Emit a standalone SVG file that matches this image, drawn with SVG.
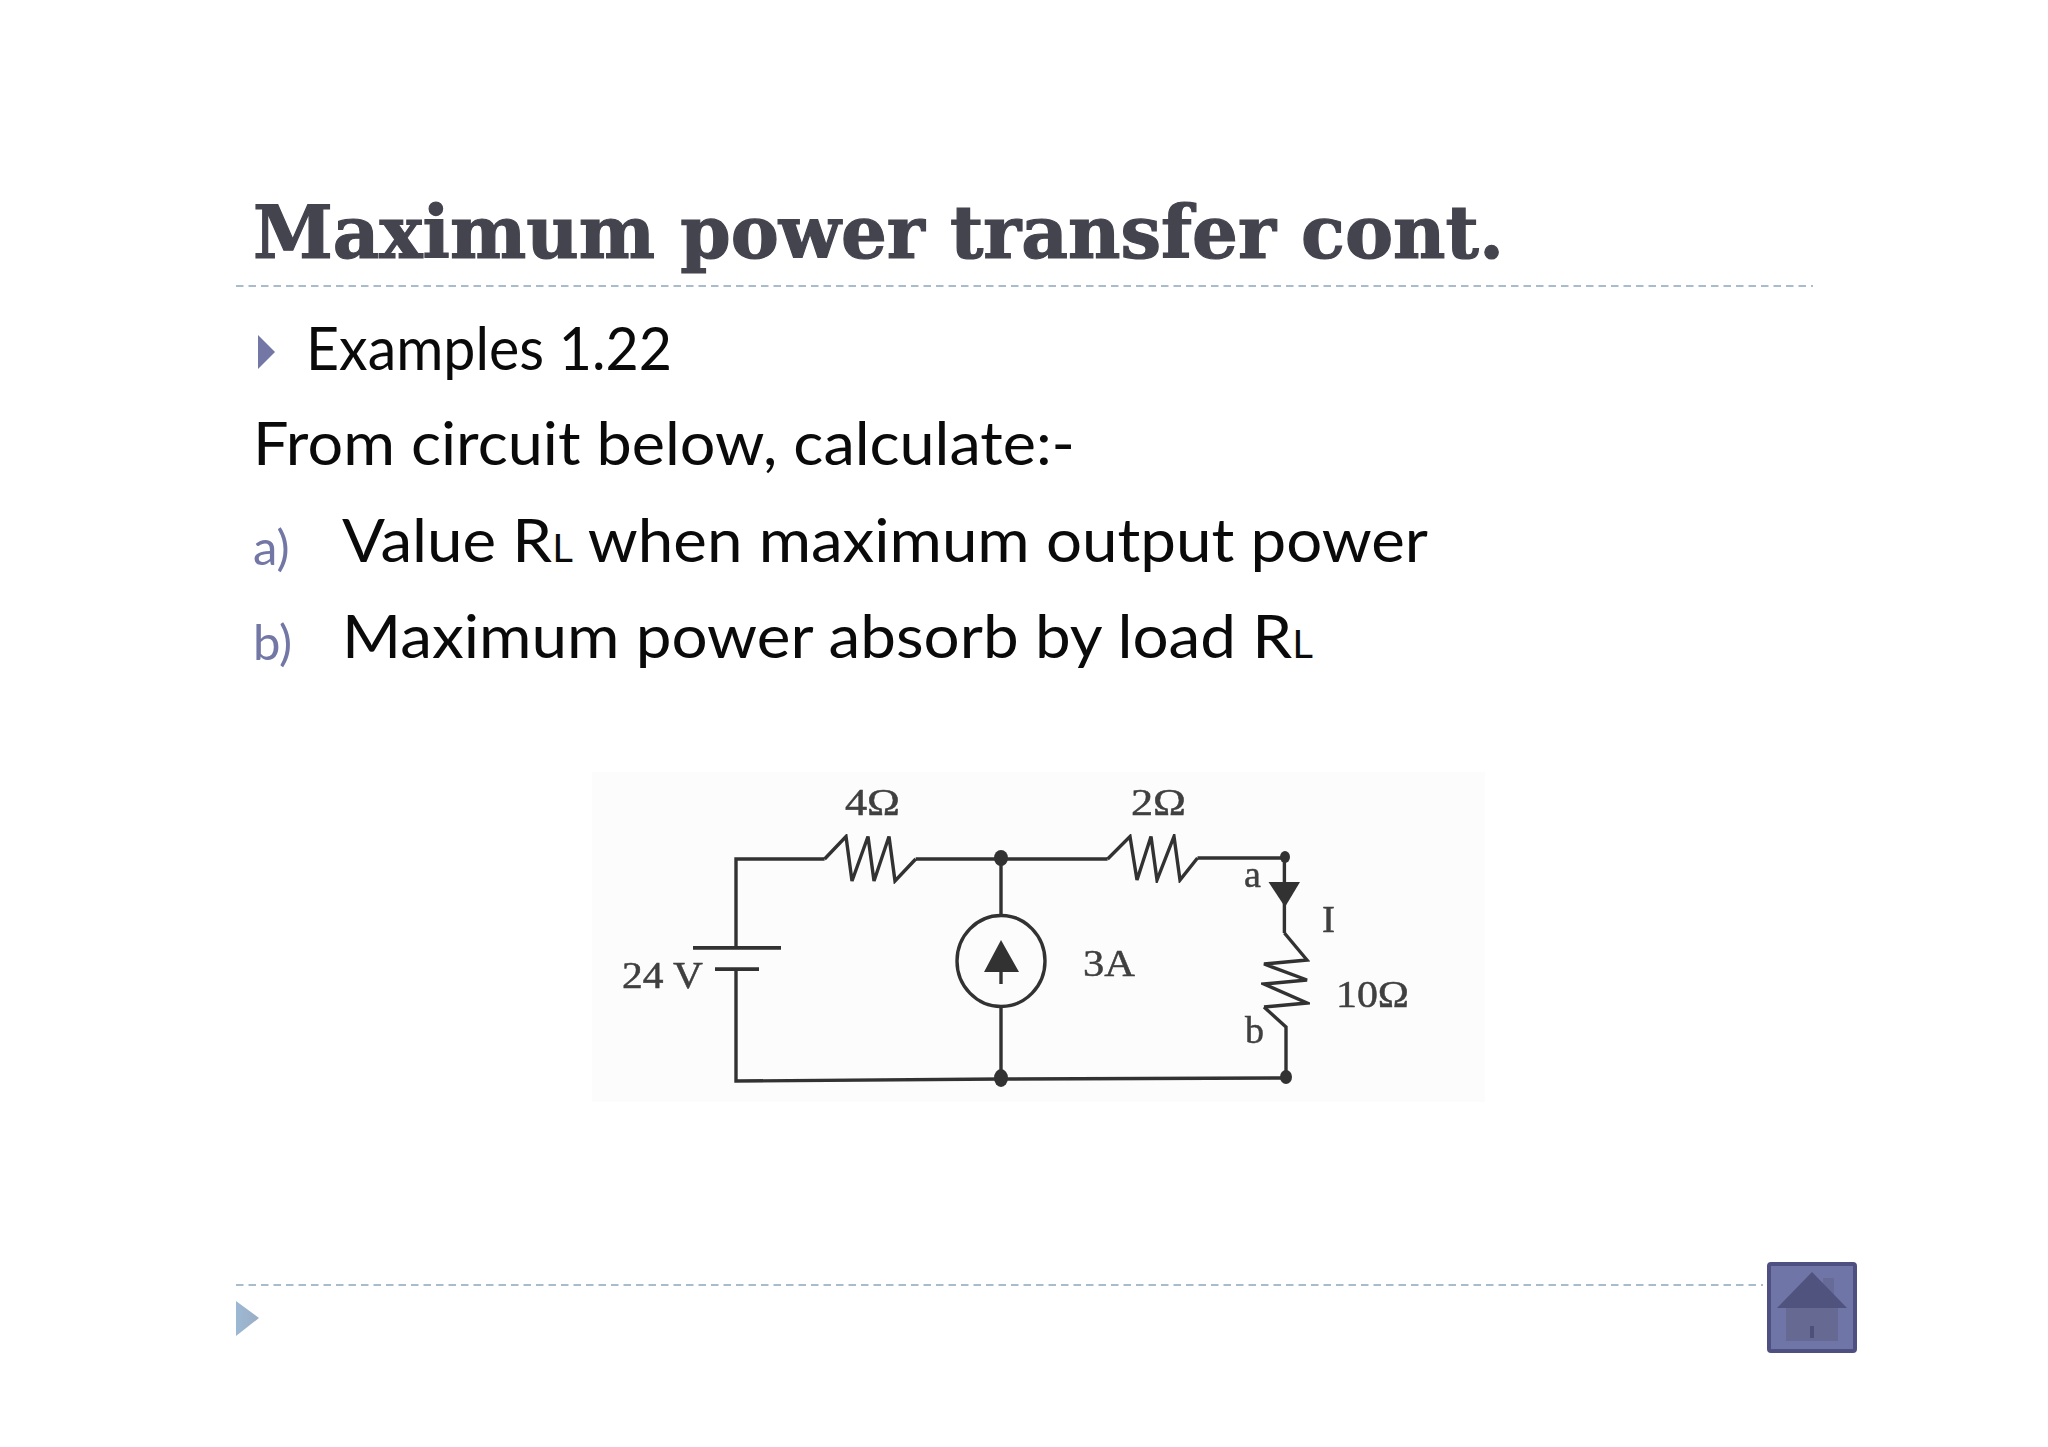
<svg xmlns="http://www.w3.org/2000/svg" width="2048" height="1447" viewBox="0 0 2048 1447">
<style>
.t{font-family:"DejaVu Serif","Liberation Serif",serif;font-weight:700;font-size:72px;fill:#44444f;stroke:#44444f;stroke-width:1.2}
.b{font-family:Lato,"Open Sans",sans-serif;font-size:60px;fill:#0a0a0a}
.l{font-family:Lato,"Open Sans",sans-serif;font-size:49px;fill:#7377a5}
.sm{font-size:38px}
.c{font-family:"Liberation Serif","DejaVu Serif",serif;font-size:38px;fill:#3f3f3f;stroke:#3f3f3f;stroke-width:.5}
.d{fill:none;stroke:#a9bccb;stroke-width:2;stroke-dasharray:7.5 5}
.w{fill:none;stroke:#333;stroke-width:3.4;stroke-linejoin:miter}
.p{fill:none;stroke:#333;stroke-width:4.5}
.f{fill:#333}
</style>
<defs>
<filter id="soft" x="-5%" y="-5%" width="110%" height="110%"><feGaussianBlur stdDeviation="0.7"/></filter>
<linearGradient id="tri" x1="0" x2="1" y1="0" y2="0"><stop offset="0" stop-color="#9db8d4"/><stop offset="1" stop-color="#9aaec4"/></linearGradient>
</defs>
<rect width="2048" height="1447" fill="#fff"/>
<g id="title"><text class="t" x="253" y="258" textLength="1251" lengthAdjust="spacingAndGlyphs">Maximum power transfer cont.</text></g>
<g id="rules">
<path class="d" d="M236 286H1813"/>
<path class="d" d="M236 1285H1763"/>
</g>
<g id="body">
<polygon points="258,335 275,352 258,369" fill="#7377a5"/>
<text class="b" x="306" y="370" textLength="366" lengthAdjust="spacingAndGlyphs">Examples 1.22</text>
<text class="b" x="253" y="465" textLength="822" lengthAdjust="spacingAndGlyphs">From circuit below, calculate:-</text>
<text class="l" x="253" y="565">a)</text>
<text class="b" x="342" y="562" textLength="1086" lengthAdjust="spacingAndGlyphs">Value R<tspan class="sm">L</tspan> when maximum output power</text>
<text class="l" x="253" y="660">b)</text>
<text class="b" x="342" y="658" textLength="971" lengthAdjust="spacingAndGlyphs">Maximum power absorb by load R<tspan class="sm">L</tspan></text>
</g>
<polygon id="corner-arrow" points="236,1301 259,1318 236,1336" fill="url(#tri)"/>
<g id="home">
<rect x="1769" y="1264" width="86" height="87" rx="2" fill="#6f75a6" stroke="#4d5080" stroke-width="4"/>
<rect x="1823" y="1278" width="11" height="20" fill="#666b98"/>
<rect x="1786" y="1306" width="52" height="35" fill="#666a93"/>
<polygon points="1812,1272 1847,1308 1777,1308" fill="#4f537d"/>
<rect x="1810" y="1326" width="4" height="12" fill="#4d5078"/>
</g>
<g id="circuit-panel"><rect x="592" y="772" width="893" height="330" fill="#fcfcfc" filter="url(#soft)"/></g>
<g id="connectors" filter="url(#soft)">
<path class="w" d="M824.600 859H736V947M736 969V1081L1001 1079L1286 1078V1027L1264 1007"/>
<path class="w" d="M915.700 859H1107.600M1197.500 858H1284.400V933"/>
<path class="w" d="M1001 859V916M1001 1006V1078"/>
</g>
<g id="r4" filter="url(#soft)"><path class="w" d="M824.600 859L846 836.500L852 881L868 836.500L874 881L889 836.500L895 881L915.700 859"/></g>
<g id="r2" filter="url(#soft)"><path class="w" d="M1107.600 859L1130 836.500L1137 880L1151 836.500L1157 880L1174 836.500L1180 880L1197.500 858"/></g>
<g id="r10" filter="url(#soft)"><path class="w" d="M1284.400 933L1307 960L1264 964L1307 980L1264 984L1307 1003L1264 1007"/></g>
<g id="battery" filter="url(#soft)">
<path class="p" d="M693 947.500H781"/>
<path class="p" d="M715 969.500H759"/>
</g>
<g id="source" filter="url(#soft)">
<ellipse class="w" cx="1001" cy="961" rx="44" ry="45.500"/>
<polygon class="f" points="1001,940 984,972 1019,972"/>
<path class="w" d="M1001 972V984"/>
</g>
<g id="current-arrow" filter="url(#soft)"><polygon class="f" points="1268.500,882 1300,882 1285,907"/></g>
<g id="junctions" filter="url(#soft)">
<ellipse class="f" cx="1001" cy="858" rx="7" ry="8"/>
<ellipse class="f" cx="1285" cy="857" rx="5" ry="6"/>
<ellipse class="f" cx="1001" cy="1078" rx="7" ry="9"/>
<ellipse class="f" cx="1286" cy="1077" rx="6" ry="7"/>
</g>
<g id="labels" filter="url(#soft)">
<text class="c" x="845" y="815" textLength="55" lengthAdjust="spacingAndGlyphs">4Ω</text>
<text class="c" x="1131" y="815" textLength="55" lengthAdjust="spacingAndGlyphs">2Ω</text>
<text class="c" x="622" y="988" textLength="81" lengthAdjust="spacingAndGlyphs">24 V</text>
<text class="c" x="1083" y="976" textLength="52" lengthAdjust="spacingAndGlyphs">3A</text>
<text class="c" x="1244" y="887">a</text>
<text class="c" x="1322" y="932" textLength="13" lengthAdjust="spacingAndGlyphs">I</text>
<text class="c" x="1336" y="1007" textLength="73" lengthAdjust="spacingAndGlyphs">10Ω</text>
<text class="c" x="1245" y="1043">b</text>
</g>
</svg>
